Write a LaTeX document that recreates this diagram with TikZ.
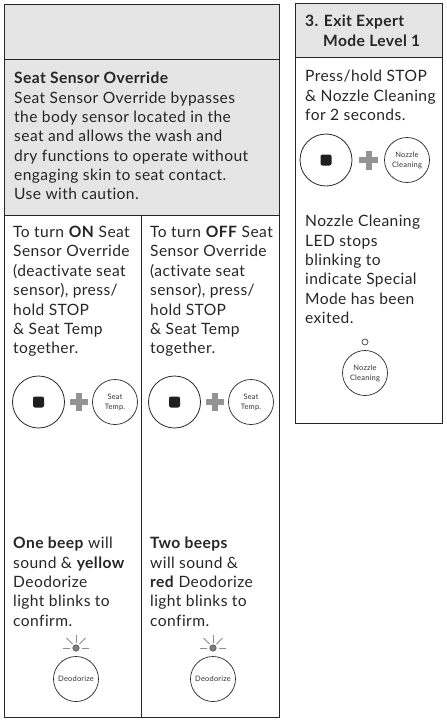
\documentclass[tikz,border=0pt]{standalone}
\usepackage{fontspec}
\setmainfont[LetterSpace=2.6,Ligatures=NoCommon]{Lato}
\tikzset{
 txt/.style={anchor=north west,inner sep=0pt,align=left,font=\fontsize{15.6}{19.35}\selectfont,text=black!85},
 panel/.style={draw=black!85,line width=1pt},
 bigc/.style={circle,draw=black!85,line width=.8pt,minimum size=52pt,inner sep=0pt},
 smallc/.style={circle,draw=black!85,line width=.7pt,minimum size=45pt,inner sep=0pt,align=center,font=\fontsize{7.5}{10}\selectfont,text=black!80},
 plusbar/.style={draw=black!42,line width=6pt},
 ray/.style={draw=black!45,line width=1pt},
 led/.style={circle,fill=black!50,draw=black!70,line width=.5pt,minimum size=6.5pt,inner sep=0pt},
}
\newcommand{\stopplus}[2]{%
 \node[bigc] (b#1) at (#1,#2) {};
 \fill[black!88,rounded corners=2pt] (#1-5.5,#2-5.5) rectangle (#1+5.5,#2+5.5);
}
\begin{document}
\begin{tikzpicture}[x=1pt,y=-1pt]
\useasboundingbox (0,0) rectangle (447,721);
\fill[black!10] (4,4) rectangle (279,215);
\draw[panel] (4,4) rectangle (279,717);
\draw[panel] (4,59) -- (279,59);
\draw[panel] (4,215) -- (279,215);
\draw[panel] (141,215) -- (141,717);
\fill[black!10] (295,3) rectangle (442,57);
\draw[panel] (295,3) rectangle (442,423);
\draw[panel] (295,57) -- (442,57);
% text
\node[txt] (hdr) at (14,72) {\textbf{Seat Sensor Override}\\Seat Sensor Override bypasses\\the body sensor located in the\\seat and allows the wash and\\dry functions to operate without\\engaging skin to seat contact.\\Use with caution.};
\node[txt] (l1) at (13,226) {To turn \textbf{ON} Seat\\Sensor Override\\(deactivate seat\\sensor), press/\\hold STOP\\\&\ Seat Temp\\together.};
\node[txt] (r1) at (150,226) {To turn \textbf{OFF} Seat\\Sensor Override\\(activate seat\\sensor), press/\\hold STOP\\\&\ Seat Temp\\together.};
\node[txt] (l2) at (13,537) {\textbf{One beep} will\\sound \&\ \textbf{yellow}\\Deodorize\\light blinks to\\confirm.};
\node[txt] (r2) at (150,537) {\textbf{Two beeps}\\will sound \&\\\textbf{red} Deodorize\\light blinks to\\confirm.};
\node[txt] (h3) at (305,15) {\textbf{3. Exit Expert}\\\hspace*{18pt}\textbf{Mode Level 1}};
\node[txt] (t3) at (305,70) {Press/hold STOP\\\&\ Nozzle Cleaning\\for 2 seconds.};
\node[txt] (t4) at (305,215) {Nozzle Cleaning\\LED stops\\blinking to\\indicate Special\\Mode has been\\exited.};
% controls left
\stopplus{38.5}{402}
\draw[plusbar] (70,402) -- (88,402); \draw[plusbar] (79,393) -- (79,411);
\node[smallc] (s1) at (115,402) {Seat\\Temp.};
\stopplus{174.5}{402}
\draw[plusbar] (206,402) -- (224,402); \draw[plusbar] (215,393) -- (215,411);
\node[smallc] (s2) at (251,402) {Seat\\Temp.};
% controls right
\stopplus{326}{160}
\draw[plusbar] (359,160) -- (378,160); \draw[plusbar] (368.5,151) -- (368.5,170);
\node[smallc] (s3) at (407,160) {Nozzle\\Cleaning};
\node[smallc] (s4) at (365,373) {Nozzle\\Cleaning};
\node[circle,draw=black!75,line width=.7pt,minimum size=6pt,inner sep=0pt] (o1) at (365,342) {};
% deodorize
\foreach \cx/\nm in {76/d1,213/d2}{
 \node[smallc] (\nm) at (\cx,679) {Deodorize};
 \node[led] (\nm l) at (\cx,648) {};
 \draw[ray] (\cx,643) -- (\cx,635);
 \draw[ray] (\cx-3.5,644) -- (\cx-9.5,638);
 \draw[ray] (\cx+3.5,644) -- (\cx+9.5,638);
 \draw[ray] (\cx-6,648) -- (\cx-13,648);
 \draw[ray] (\cx+6,648) -- (\cx+13,648);
}
\end{tikzpicture}
\end{document}
